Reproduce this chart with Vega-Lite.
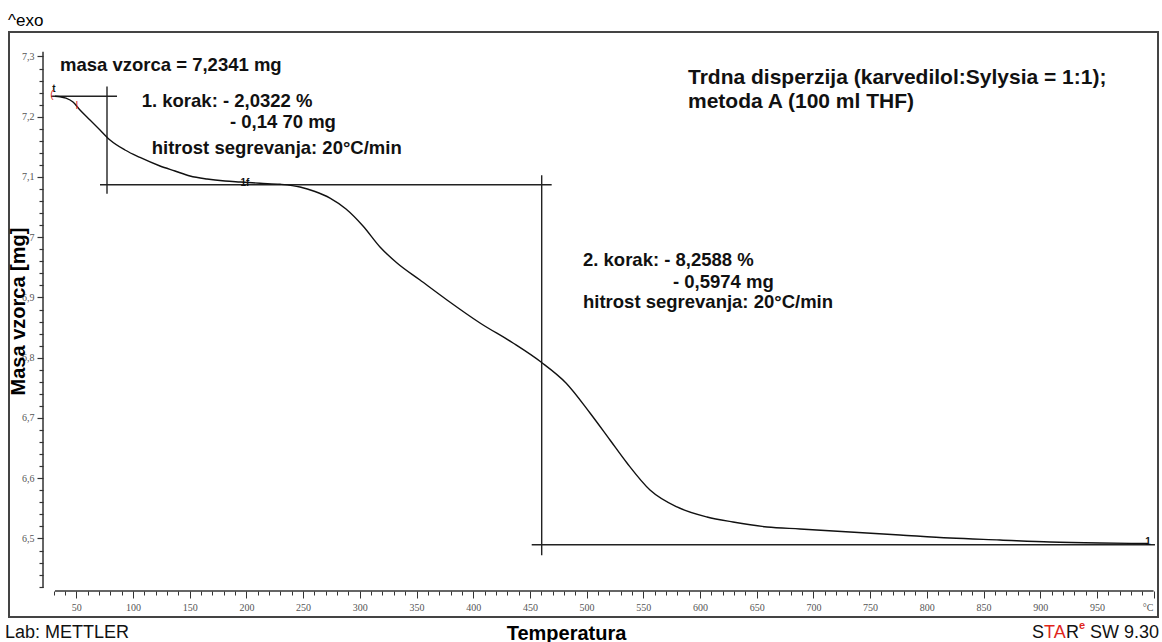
{
  "$schema": "https://vega.github.io/schema/vega-lite/v6.json",
  "width": 1149,
  "height": 585,
  "autosize": {"type": "none"},
  "padding": {"left": 9, "top": 32, "right": 4, "bottom": 25},
  "background": "white",
  "config": {
    "view": {"stroke": "#444", "strokeWidth": 2},
    "font": "Liberation Sans"
  },
  "title": {
    "text": "^exo",
    "anchor": "start",
    "frame": "group",
    "offset": 8,
    "baseline": "alphabetic",
    "dx": -1,
    "dy": 19,
    "fontSize": 17,
    "fontWeight": "normal",
    "font": "Liberation Sans",
    "color": "#000"
  },
  "encoding": {
    "x": {
      "field": "T",
      "type": "quantitative",
      "scale": {"domain": [-9.35, 1003.88], "nice": false, "zero": false},
      "axis": {
        "title": "Temperatura",
        "titleFont": "Liberation Sans",
        "titleFontSize": 20,
        "titleFontWeight": "bold",
        "titleColor": "#000",
        "titleX": 557,
        "titleY": 42,
        "titleBaseline": "middle",
        "titleAlign": "center",
        "offset": -26,
        "domain": false,
        "grid": false,
        "values": [30,40,50,60,70,80,90,100,110,120,130,140,150,160,170,180,190,200,210,220,230,240,250,260,270,280,290,300,310,320,330,340,350,360,370,380,390,400,410,420,430,440,450,460,470,480,490,500,510,520,530,540,550,560,570,580,590,600,610,620,630,640,650,660,670,680,690,700,710,720,730,740,750,760,770,780,790,800,810,820,830,840,850,860,870,880,890,900,910,920,930,940,950,960,970,980,990,1000],
        "tickColor": "#333",
        "tickWidth": 1,
        "tickSize": {"condition": {"test": "datum.value % 50 === 0", "value": 7}, "value": 4},
        "labelExpr": "datum.value >= 1000 ? '°C' : (datum.value % 50 === 0 ? datum.label : '')",
        "labelOffset": {"condition": {"test": "datum.value >= 1000", "value": -6}, "value": 0},
        "labelFont": "Liberation Serif",
        "labelFontSize": 10,
        "labelColor": "#555",
        "labelPadding": 4,
        "labelFlush": false,
        "labelBound": false,
        "labelOverlap": false
      }
    },
    "y": {
      "field": "m",
      "type": "quantitative",
      "scale": {"domain": [6.36971, 7.34066], "nice": false, "zero": false},
      "axis": {
        "title": "Masa vzorca [mg]",
        "titleFont": "Liberation Sans",
        "titleFontSize": 20,
        "titleFontWeight": "bold",
        "titleColor": "#000",
        "titleX": -25,
        "titleY": 279,
        "titleBaseline": "middle",
        "titleAlign": "center",
        "titleAngle": 270,
        "offset": -34,
        "domain": false,
        "grid": false,
        "values": [6.42,6.44,6.46,6.48,6.5,6.52,6.54,6.56,6.58,6.6,6.62,6.64,6.66,6.68,6.7,6.72,6.74,6.76,6.78,6.8,6.82,6.84,6.86,6.88,6.9,6.92,6.94,6.96,6.98,7,7.02,7.04,7.06,7.08,7.1,7.12,7.14,7.16,7.18,7.2,7.22,7.24,7.26,7.28,7.3],
        "tickColor": "#333",
        "tickWidth": 1.2,
        "tickSize": {"condition": {"test": "abs(datum.value*10 - round(datum.value*10)) < 0.001", "value": 6}, "value": 4},
        "labelExpr": "abs(datum.value*10 - round(datum.value*10)) < 0.001 ? (datum.value == 7 ? '7' : replace(format(datum.value, '.1f'), '.', ',')) : ''",
        "labelFont": "Liberation Serif",
        "labelFontSize": 10,
        "labelColor": "#555",
        "labelPadding": 3,
        "labelFlush": false,
        "labelOverlap": false
      }
    }
  },
  "layer": [
    {
      "description": "axis lines of the instrument plot",
      "data": {"values": [
        {"T": 31.2, "T2": 1000, "m": 6.4129, "m2": 6.4129},
        {"T": 20.64, "T2": 20.64, "m": 7.308, "m2": 6.418}
      ]},
      "mark": {"type": "rule", "color": "#333", "strokeWidth": 1.5},
      "encoding": {"x2": {"field": "T2"}, "y2": {"field": "m2"}}
    },
    {
      "description": "step evaluation construction lines",
      "data": {"values": [
        {"T": 27.7, "T2": 85.9, "m": 7.2341, "m2": 7.2341},
        {"T": 77.07, "T2": 77.07, "m": 7.25, "m2": 7.072},
        {"T": 70.9, "T2": 469.2, "m": 7.0871, "m2": 7.0871},
        {"T": 460.4, "T2": 460.4, "m": 7.103, "m2": 6.472},
        {"T": 451.6, "T2": 1001.2, "m": 6.4897, "m2": 6.4897}
      ]},
      "mark": {"type": "rule", "color": "#222", "strokeWidth": 1.4},
      "encoding": {"x2": {"field": "T2"}, "y2": {"field": "m2"}}
    },
    {
      "description": "TGA curve: sample mass vs temperature",
      "data": {"values": [
        {"T": 31.22, "m": 7.2341}, {"T": 35.63, "m": 7.2333}, {"T": 40.92, "m": 7.2308},
        {"T": 47.09, "m": 7.2245}, {"T": 53.26, "m": 7.2112}, {"T": 62.08, "m": 7.1946},
        {"T": 70.9, "m": 7.178}, {"T": 79.72, "m": 7.1614}, {"T": 92.95, "m": 7.1448},
        {"T": 106.17, "m": 7.1324}, {"T": 123.81, "m": 7.1183}, {"T": 137.04, "m": 7.11},
        {"T": 150.26, "m": 7.1017}, {"T": 165.26, "m": 7.0967}, {"T": 181.13, "m": 7.0934},
        {"T": 194.36, "m": 7.0917}, {"T": 211.99, "m": 7.0896}, {"T": 229.63, "m": 7.0879},
        {"T": 247.27, "m": 7.0834}, {"T": 260.49, "m": 7.0759}, {"T": 273.72, "m": 7.0651},
        {"T": 287.83, "m": 7.0469}, {"T": 302.82, "m": 7.0187}, {"T": 317.81, "m": 6.9838},
        {"T": 332.8, "m": 6.9573}, {"T": 353.09, "m": 6.929}, {"T": 376.89, "m": 6.8959},
        {"T": 406.0, "m": 6.8577}, {"T": 435.1, "m": 6.8245}, {"T": 459.79, "m": 6.7929},
        {"T": 481.83, "m": 6.7581}, {"T": 503.0, "m": 6.7083}, {"T": 520.63, "m": 6.6635},
        {"T": 535.62, "m": 6.6253}, {"T": 555.91, "m": 6.5805}, {"T": 579.72, "m": 6.5523},
        {"T": 606.17, "m": 6.5357}, {"T": 629.1, "m": 6.5274}, {"T": 659.08, "m": 6.5191},
        {"T": 688.18, "m": 6.5158}, {"T": 732.27, "m": 6.5108}, {"T": 776.36, "m": 6.5058},
        {"T": 820.46, "m": 6.5008}, {"T": 864.55, "m": 6.4975}, {"T": 908.64, "m": 6.4942},
        {"T": 952.73, "m": 6.4925}, {"T": 995.06, "m": 6.4917}
      ]},
      "mark": {"type": "line", "color": "#111", "strokeWidth": 1.4, "interpolate": "monotone"},
      "encoding": {}
    },
    {
      "description": "step result annotations",
      "data": {"values": [
        {"T": 35.63, "m": 7.286, "label": "masa vzorca = 7,2341 mg"},
        {"T": 107.67, "m": 7.2261, "label": "1. korak: - 2,0322 %"},
        {"T": 185.54, "m": 7.1913, "label": "- 0,14 70 mg"},
        {"T": 116.49, "m": 7.1481, "label": "hitrost segrevanja: 20°C/min"},
        {"T": 496.82, "m": 6.9622, "label": "2. korak: - 8,2588 %"},
        {"T": 576.19, "m": 6.9262, "label": "- 0,5974 mg"},
        {"T": 496.82, "m": 6.893, "label": "hitrost segrevanja: 20°C/min"}
      ]},
      "mark": {"type": "text", "align": "left", "baseline": "middle", "font": "Liberation Sans", "fontSize": 18.5, "fontWeight": "bold", "color": "#111"},
      "encoding": {"text": {"field": "label"}}
    },
    {
      "description": "sample description",
      "data": {"values": [
        {"T": 589.42, "m": 7.2643, "label": "Trdna disperzija (karvedilol:Sylysia = 1:1);"},
        {"T": 589.42, "m": 7.2245, "label": "metoda A (100 ml THF)"}
      ]},
      "mark": {"type": "text", "align": "left", "baseline": "middle", "font": "Liberation Sans", "fontSize": 21, "fontWeight": "bold", "color": "#111"},
      "encoding": {"text": {"field": "label"}}
    },
    {
      "description": "step limit markers",
      "data": {"values": [
        {"T": 30.34, "m": 7.246, "label": "t"},
        {"T": 198.77, "m": 7.0905, "label": "1f"},
        {"T": 995.06, "m": 6.4935, "label": "1"}
      ]},
      "mark": {"type": "text", "align": "center", "baseline": "middle", "font": "Liberation Sans", "fontSize": 10, "fontWeight": "bold", "color": "#111"},
      "encoding": {"text": {"field": "label"}}
    },
    {
      "description": "evaluation range markers",
      "data": {"values": [
        {"T": 28.57, "m": 7.236, "label": "("},
        {"T": 50.62, "m": 7.218, "label": "I"}
      ]},
      "mark": {"type": "text", "align": "center", "baseline": "middle", "font": "Liberation Sans", "fontSize": 10, "color": "#e0251b"},
      "encoding": {"text": {"field": "label"}}
    },
    {
      "description": "footer text, black parts",
      "data": {"values": [
        {"T": -12.87, "m": 6.3431, "label": "Lab: METTLER"},
        {"T": 892.77, "m": 6.3431, "label": "S"},
        {"T": 922.75, "m": 6.3431, "label": "R"},
        {"T": 943.91, "m": 6.3431, "label": "SW 9.30"}
      ]},
      "mark": {"type": "text", "align": "left", "baseline": "middle", "font": "Liberation Sans", "fontSize": 18, "color": "#111"},
      "encoding": {"text": {"field": "label"}}
    },
    {
      "description": "footer text, red parts",
      "data": {"values": [
        {"T": 903.35, "m": 6.3431, "label": "TA"}
      ]},
      "mark": {"type": "text", "align": "left", "baseline": "middle", "font": "Liberation Sans", "fontSize": 18, "color": "#e0251b"},
      "encoding": {"text": {"field": "label"}}
    },
    {
      "description": "footer superscript",
      "data": {"values": [
        {"T": 934.21, "m": 6.3548, "label": "e"}
      ]},
      "mark": {"type": "text", "align": "left", "baseline": "middle", "font": "Liberation Sans", "fontSize": 11, "fontWeight": "bold", "color": "#e0251b"},
      "encoding": {"text": {"field": "label"}}
    }
  ]
}
